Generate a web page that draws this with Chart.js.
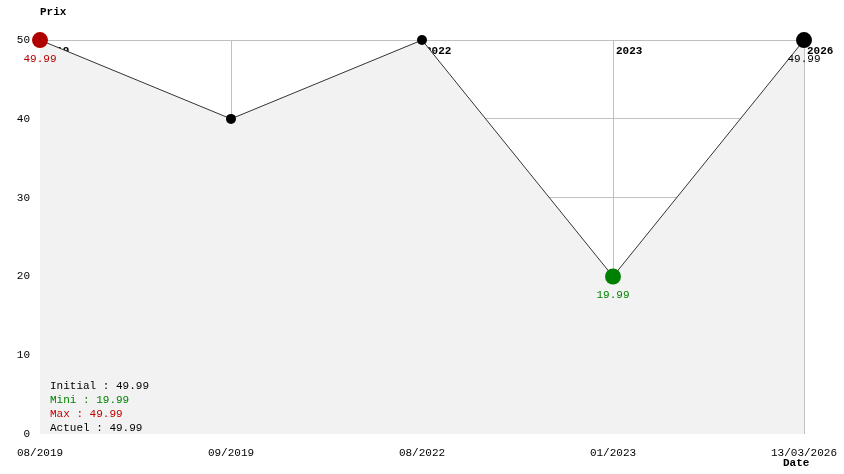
<!DOCTYPE html>
<html>
<head>
<meta charset="utf-8">
<script src="https://cdn.jsdelivr.net/npm/chart.js@4/dist/chart.umd.min.js"></script>
<style>body{margin:0;background:#fff}canvas{display:block}</style>
</head>
<body>
<canvas id="c" width="844" height="474"></canvas>
<script>
const dates = ['08/2019', '09/2019', '08/2022', '01/2023', '13/03/2026'];
const years = ['2019', '', '2022', '2023', '2026'];
const prices = [49.99, 39.99, 49.99, 19.99, 49.99];
const pointColors = ['#b00000', '#000000', '#000000', '#008000', '#000000'];
const pointSizes = [8, 5, 5, 8, 8];
const valueLabels = [['49.99', '#b00000'], null, null, ['19.99', '#008000'], ['49.99', '#000000']];
const summary = [['Initial : 49.99', '#000'], ['Mini : 19.99', '#008000'], ['Max : 49.99', '#c00000'], ['Actuel : 49.99', '#000']];

const mono = '"Liberation Mono", "DejaVu Sans Mono", monospace';

const extras = {
  id: 'extras',
  beforeDatasetsDraw(chart) {
    const ctx = chart.ctx, x = chart.scales.x, top = chart.chartArea.top;
    ctx.save();
    ctx.font = 'bold 11px ' + mono;
    ctx.fillStyle = '#000';
    ctx.textBaseline = 'middle';
    years.forEach((y, i) => { if (y) ctx.fillText(y, x.getPixelForValue(i) + 3, top + 11); });
    ctx.restore();
  },
  afterDatasetsDraw(chart) {
    const ctx = chart.ctx, x = chart.scales.x, y = chart.scales.y;
    ctx.save();
    ctx.font = '11px ' + mono;
    ctx.textAlign = 'center';
    ctx.textBaseline = 'middle';
    valueLabels.forEach((l, i) => {
      if (!l) return;
      ctx.fillStyle = l[1];
      ctx.fillText(l[0], x.getPixelForValue(i), y.getPixelForValue(prices[i]) + 19);
    });
    ctx.textAlign = 'left';
    summary.forEach((s, i) => { ctx.fillStyle = s[1]; ctx.fillText(s[0], 50, 386 + i * 14); });
    ctx.font = 'bold 11px ' + mono;
    ctx.fillStyle = '#000';
    ctx.fillText('Prix', 40, 12);
    ctx.fillText('Date', 783, 463);
    ctx.restore();
  }
};

new Chart(document.getElementById('c'), {
  type: 'line',
  data: {
    labels: dates,
    datasets: [{
      data: prices,
      borderColor: '#333',
      borderWidth: 1,
      fill: 'origin',
      backgroundColor: '#f2f2f2',
      tension: 0,
      clip: false,
      pointRadius: pointSizes,
      pointBackgroundColor: pointColors,
      pointBorderColor: pointColors,
      pointBorderWidth: 0,
      pointHoverRadius: pointSizes
    }]
  },
  options: {
    responsive: false,
    animation: false,
    events: [],
    layout: { padding: { top: 40, right: 0, left: 0, bottom: 0 } },
    plugins: { legend: { display: false }, tooltip: { enabled: false } },
    scales: {
      x: {
        offset: false,
        afterFit(s) { s.height = 40; s.paddingRight = 40; },
        grid: { color: '#c0c0c0', drawTicks: false },
        border: { display: false },
        ticks: { color: '#000', font: { family: mono, size: 11 }, maxRotation: 0, padding: 12 }
      },
      y: {
        min: 0, max: 50,
        afterFit(s) { s.width = 40; },
        grid: { color: c => c.tick && c.tick.value === 0 ? 'rgba(0,0,0,0)' : '#c0c0c0', drawTicks: false },
        border: { display: false },
        ticks: { stepSize: 10, color: '#000', font: { family: mono, size: 11 }, padding: 10 }
      }
    }
  },
  plugins: [extras]
});
</script>
</body>
</html>
